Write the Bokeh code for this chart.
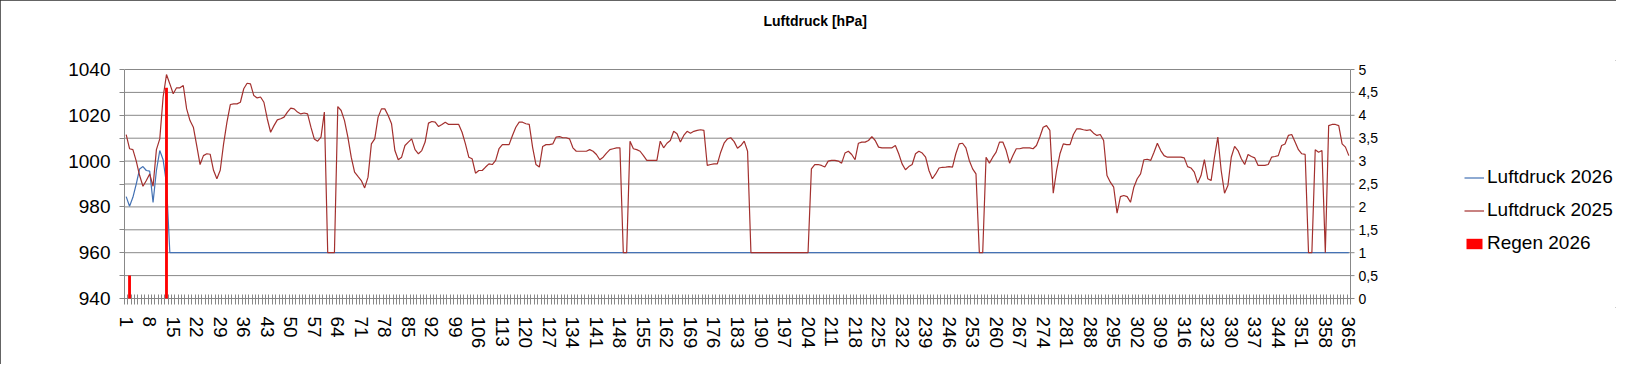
from bokeh.plotting import figure
from bokeh.models import (Range1d, FixedTicker, CustomJSTickFormatter,
                          Legend, LegendItem, Title)
from bokeh.core.properties import value
from bokeh.embed import file_html
from bokeh.resources import INLINE

FONT = "Liberation Sans"

days = list(range(1, 366))

pressure_2025 = [
    1011.6, 1005.4, 1005.0, 1000.0, 993.7, 989.0, 991.5, 994.4, 989.0, 1005.0,
    1009.7, 1028.0, 1037.8, 1033.7, 1029.4, 1032.0, 1032.0, 1033.0, 1022.8, 1017.7,
    1014.8, 1006.8, 998.5, 1002.4, 1003.2, 1003.0, 996.0, 992.3, 996.0, 1007.5,
    1017.0, 1024.7, 1025.0, 1025.0, 1025.7, 1031.6, 1034.0, 1033.7, 1028.6, 1027.6,
    1028.0, 1025.7, 1018.5, 1012.6, 1015.5, 1018.0, 1018.5, 1019.2, 1021.4, 1023.1,
    1022.8, 1021.4, 1020.6, 1021.0, 1020.6, 1014.8, 1009.7, 1008.7, 1010.5, 1021.4,
    960, 960, 960, 1023.8, 1022.1, 1017.7, 1010.5, 1001.7, 995.2, 993.3,
    991.5, 988.3, 993.0, 1007.5, 1009.7, 1019.2, 1022.8, 1022.8, 1019.9, 1016.3,
    1004.6, 1000.6, 1001.7, 1006.8, 1008.3, 1009.7, 1005.0, 1003.2, 1004.6, 1008.3,
    1016.6, 1017.3, 1017.0, 1015.1, 1016.0, 1017.0, 1016.0, 1016.0, 1016.0, 1016.0,
    1012.6, 1007.5, 1001.7, 1001.0, 994.7, 995.9, 995.9, 997.4, 998.8, 998.5,
    1000.3, 1005.4, 1007.2, 1007.2, 1007.2, 1011.2, 1014.8, 1017.0, 1017.0, 1016.3,
    1016.0, 1006.0, 998.5, 997.4, 1006.4, 1007.2, 1007.2, 1007.5, 1010.5, 1010.7,
    1010.2, 1010.2, 1009.7, 1005.8, 1004.3, 1004.3, 1004.3, 1004.3, 1005.0, 1004.3,
    1002.9, 1000.6, 1001.7, 1003.5, 1005.0, 1005.4, 1005.8, 1005.8, 960, 960,
    1008.7, 1005.4, 1005.0, 1004.3, 1002.4, 1000.3, 1000.3, 1000.3, 1000.3, 1008.7,
    1005.8, 1007.8, 1009.0, 1013.0, 1011.9, 1008.3, 1011.2, 1013.0, 1012.2, 1013.0,
    1013.4, 1013.7, 1013.4, 998.1, 998.5, 998.8, 998.8, 1003.9, 1007.8, 1009.7,
    1010.2, 1008.5, 1005.6, 1006.8, 1008.7, 1004.3, 960, 960, 960, 960,
    960, 960, 960, 960, 960, 960, 960, 960, 960, 960,
    960, 960, 960, 960, 996.6, 998.5, 998.5, 998.1, 997.4, 1000.0,
    1000.3, 1000.3, 1000.0, 999.1, 1003.5, 1004.3, 1002.9, 1000.6, 1007.8, 1008.3,
    1008.3, 1009.0, 1010.7, 1009.0, 1006.1, 1005.8, 1005.8, 1005.8, 1005.8, 1006.8,
    1003.2, 998.8, 996.2, 997.6, 998.5, 1003.2, 1004.3, 1003.5, 1001.7, 995.9,
    992.3, 994.4, 997.0, 997.3, 997.4, 997.6, 997.4, 1003.2, 1007.5, 1007.8,
    1005.8, 1000.3, 996.6, 994.4, 960, 960, 1001.7, 999.1, 1001.7, 1003.9,
    1008.3, 1008.3, 1004.6, 999.1, 1002.4, 1005.4, 1005.4, 1005.8, 1005.8, 1005.8,
    1005.4, 1006.8, 1010.5, 1014.8, 1015.5, 1013.4, 986.0, 995.9, 1003.2, 1007.5,
    1007.2, 1007.2, 1011.6, 1014.1, 1014.1, 1013.7, 1013.4, 1013.7, 1012.2, 1011.2,
    1011.6, 1009.0, 993.7, 990.8, 988.6, 977.3, 984.5, 985.0, 984.5, 982.0,
    988.6, 992.3, 994.4, 1000.6, 1000.8, 1000.3, 1003.9, 1007.8, 1004.6, 1002.4,
    1001.7, 1001.7, 1001.7, 1001.7, 1001.7, 1001.4, 997.6, 997.0, 995.2, 990.4,
    993.7, 1000.6, 992.3, 991.5, 1001.7, 1010.5, 995.9, 986.0, 989.3, 1001.7,
    1006.4, 1004.6, 1001.0, 998.5, 1002.9, 1002.0, 1001.4, 998.1, 998.1, 998.1,
    998.5, 1001.7, 1002.0, 1002.4, 1006.8, 1007.5, 1011.2, 1011.6, 1008.3, 1005.0,
    1003.2, 1002.9, 960, 960, 1005.0, 1003.9, 1004.6, 960, 1015.5, 1016.0,
    1016.0, 1015.5, 1007.5, 1006.1, 1002.4,
]

# 2026: measured days 1-14, afterwards the series sits on the 960 floor
pressure_2026_measured = [984.5, 980.3, 984.2, 990.0, 996.6, 997.6, 995.9,
                          995.6, 982.0, 995.9, 1004.6, 1000.6, 990.0, 960.0]
pressure_2026_floor = 960.0
pressure_2026 = pressure_2026_measured + [pressure_2026_floor] * (len(days) - len(pressure_2026_measured))

rain_2026 = [0, 0.5, 0, 0, 0, 0, 0, 0, 0, 0, 0, 0, 4.6, 0]
rain_days = days[:len(rain_2026)]

x_tick_labels = list(range(1, 366, 7))
y_ticks = list(range(940, 1041, 10))
rain_ticks = [0, 0.5, 1, 1.5, 2, 2.5, 3, 3.5, 4, 4.5, 5]
rain_tick_labels = [f"{t:g}".replace(".", ",") for t in rain_ticks]

GRID = "#888888"
BLUE = "#4472B4"
RED = "#A3302E"

# geometry (pixels)
W, H = 1616, 364
LEFT, TOP_AX, BOTTOM_AX = 124, 69, 298      # plotted area edges
DATA_W = 1226                                # width of the day axis
PAD = 9                                      # frame reaches a bit past the value range
FRAME_W = W - LEFT
x0, x1 = days[0] - 0.5, days[-1] + 0.5
x_end = x0 + (x1 - x0) * FRAME_W / DATA_W
ymin, ymax = 940, 1040
hpa_px = (ymax - ymin) / (BOTTOM_AX - TOP_AX)
rmin, rmax = 0, 5
rain_px = (rmax - rmin) / (BOTTOM_AX - TOP_AX)

p = figure(width=W, height=H,
           x_range=Range1d(x0, x_end), y_range=Range1d(ymin - PAD * hpa_px, ymax + PAD * hpa_px),
           output_backend="svg", toolbar_location=None, title_location=None,
           min_border_left=LEFT, min_border_right=0, min_border_top=TOP_AX - PAD,
           min_border_bottom=H - (BOTTOM_AX + PAD))
p.extra_y_ranges = {"rain": Range1d(rmin - PAD * rain_px, rmax + PAD * rain_px)}
p.outline_line_color = None
p.background_fill_color = "white"
p.border_fill_color = "white"
p.styles = {"outline": "1px solid #303030", "outline-offset": "-1px"}
p.xgrid.visible = False
p.ygrid.visible = False

# title (a blank spacer title keeps it away from the frame)
spacer = Title(text=" ", text_font_size="10px", standoff=19)
p.add_layout(spacer, "above")
title = Title(text="Luftdruck [hPa]", text_font=FONT, text_font_style="bold",
              text_font_size="14px", text_color="black", align="left", offset=639,
              vertical_align="bottom", standoff=0)
p.add_layout(title, "above")

# horizontal grid lines (the 940 line doubles as the day axis line)
p.segment(x0=[x0] * len(y_ticks), y0=y_ticks, x1=[x1] * len(y_ticks), y1=y_ticks,
          line_color=GRID, line_width=1)

# x axis at the frame bottom; its ticks are shifted up onto the 940 line
xa = p.xaxis[0]
xa.bounds = (x0, x1)
xa.ticker = FixedTicker(ticks=x_tick_labels, minor_ticks=[d - 0.5 for d in days] + [x1])
xa.major_tick_line_color = None
xa.major_tick_in = 0
xa.major_tick_out = 0
xa.minor_tick_line_color = GRID
xa.minor_tick_in = PAD + 4
xa.minor_tick_out = 6 - PAD
xa.axis_line_color = None
xa.major_label_orientation = "vertical"
xa.major_label_text_font = FONT
xa.major_label_text_font_size = "19px"
xa.major_label_text_color = "black"
xa.major_label_standoff = 9

# left axis
ya = p.yaxis[0]
ya.bounds = (ymin, ymax)
ya.ticker = FixedTicker(ticks=y_ticks)
ya.formatter = CustomJSTickFormatter(code="return (tick % 20 == 0) ? tick.toString() : '';")
ya.minor_tick_line_color = None
ya.major_tick_line_color = GRID
ya.major_tick_in = 0
ya.major_tick_out = 5
ya.axis_line_color = GRID
ya.major_label_text_font = FONT
ya.major_label_text_font_size = "19px"
ya.major_label_text_color = "black"
ya.major_label_standoff = 9

# series
r26 = p.line(days, pressure_2026, line_color=BLUE, line_width=1.2)
r25 = p.line(days, pressure_2025, line_color=RED, line_width=1.2)
rb = p.vbar(x=rain_days, top=rain_2026, width=0.85, y_range_name="rain",
            fill_color="#FF0000", line_color=None)

# secondary (rain) axis at the right end of the day range
p.segment(x0=[x1], y0=[rmin], x1=[x1], y1=[rmax], y_range_name="rain",
          line_color=GRID, line_width=1)
p.ray(x=[x1] * len(rain_ticks), y=rain_ticks, length=4, length_units="screen", angle=0,
      y_range_name="rain", line_color=GRID, line_width=1)
p.text(x=[x1] * len(rain_ticks), y=rain_ticks, text=rain_tick_labels, x_offset=8,
       y_range_name="rain", text_align="left", text_baseline="middle",
       text_font=value(FONT), text_font_size="14px", text_color="black")

legend = Legend(items=[LegendItem(label="Luftdruck 2026", renderers=[r26]),
                       LegendItem(label="Luftdruck 2025", renderers=[r25]),
                       LegendItem(label="Regen 2026", renderers=[rb])],
                location=(1340, 53))
legend.glyph_width = 20
legend.glyph_height = 13
legend.label_height = 20
legend.label_standoff = 3
legend.spacing = 11
legend.padding = 0
legend.margin = 0
legend.border_line_color = None
legend.background_fill_alpha = 0
legend.label_text_font = FONT
legend.label_text_font_size = "19px"
legend.label_text_color = "black"
p.add_layout(legend)

open("out.html", "w").write(file_html(p, INLINE))
